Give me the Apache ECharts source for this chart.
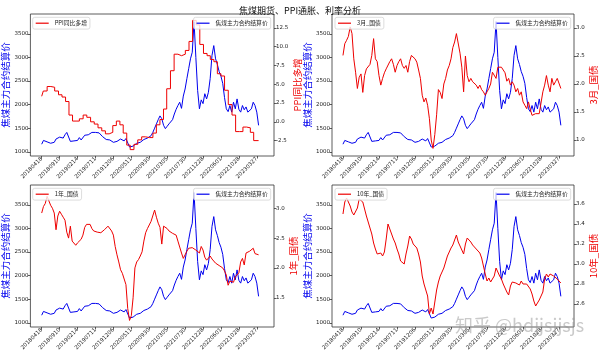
<!DOCTYPE html>
<html>
<head>
<meta charset="utf-8">
<title>焦煤期货、PPI通胀、利率分析</title>
<script src="https://cdn.jsdelivr.net/npm/echarts@6/dist/echarts.min.js"></script>
<style>
  html, body { margin: 0; padding: 0; background: #fff; }
  #chart { width: 600px; height: 354px; }
</style>
</head>
<body>
<div id="chart"></div>
<script>
  // x axis = trading-day index, one label every 100 trading days
  const tickLabels = ['20180418', '20180910', '20190214', '20190711', '20191206', '20200511', '20200930',
    '20210305', '20210730', '20211228', '20220601', '20221028', '20230327'];
  const tickIdx = [0, 100, 200, 300, 400, 500, 600, 700, 800, 900, 1000, 1100, 1200];

  // daily series sampled every 10 trading days (idx 0..1210)
  const step = 10;
  const coking = [1160, 1240, 1270, 1210, 1250, 1180, 1150, 1200, 1270, 1230,
    1310, 1330, 1290, 1360, 1410, 1440, 1220, 1190, 1230, 1270,
    1240, 1300, 1250, 1290, 1350, 1380, 1360, 1400, 1410, 1400,
    1410, 1390, 1400, 1380, 1320, 1290, 1260, 1250, 1250, 1240,
    1200, 1170, 1220, 1250, 1270, 1260, 1230, 1280, 1260, 1100,
    1060, 1120, 1160, 1180, 1190, 1200, 1230, 1260, 1250, 1290,
    1330, 1340, 1410, 1500, 1590, 1680, 1760, 1700, 1560, 1490,
    1540, 1590, 1620, 1680, 1800, 1900, 1980, 2050, 1920, 2180,
    2330, 2550, 2760, 2970, 3110, 3760, 3000, 2300, 1910, 2100,
    2020, 2230, 2120, 2260, 2550, 3040, 3250, 2970, 2850, 2700,
    2600, 2450, 2150, 1910, 1850, 1980, 1840, 2050, 1910, 2120,
    1900, 1840, 1980, 1890, 1950, 1840, 1840, 1910, 2050, 1980,
    1840, 1560];
  const bond3m = [2.51, 2.72, 2.78, 2.85, 3.02, 2.90, 2.45, 2.21, 1.92, 2.12,
    2.18, 1.85, 2.15, 2.27, 2.24, 2.35, 2.51, 2.81, 2.45, 2.40,
    2.15, 1.98, 2.10, 2.20, 2.27, 2.30, 2.40, 2.45, 2.35, 2.21,
    2.33, 2.40, 2.45, 2.33, 2.28, 2.33, 2.21, 2.40, 2.51, 2.48,
    2.45, 2.39, 2.25, 2.10, 1.80, 1.68, 1.75, 1.62, 1.38, 1.00,
    0.85, 1.10, 1.45, 1.90, 1.85, 1.74, 2.00, 2.10, 2.25, 2.33,
    2.45, 2.65, 2.75, 2.90, 2.93, 2.55, 2.30, 1.86, 2.50, 2.15,
    2.04, 2.10, 2.04, 2.02, 1.98, 1.92, 1.98, 1.90, 1.86, 1.80,
    1.86, 1.92, 2.00, 2.21, 2.18, 2.10, 2.30, 2.33, 2.30, 2.27,
    2.20, 2.05, 2.10, 1.98, 2.04, 1.98, 1.86, 1.92, 1.80, 1.86,
    1.68, 1.62, 1.56, 1.68, 1.55, 1.44, 1.44, 1.47, 1.50, 1.47,
    1.50, 1.86, 1.98, 2.15, 1.98, 1.86, 2.10, 1.98, 2.04, 2.10,
    2.07, 1.92];
  const bond1y = [2.92, 3.03, 3.08, 3.20, 3.17, 3.05, 3.00, 2.92, 2.64, 2.87,
    2.95, 2.90, 2.85, 2.80, 2.60, 2.50, 2.70, 2.45, 2.42, 2.38,
    2.42, 2.45, 2.48, 2.55, 2.68, 2.73, 2.70, 2.73, 2.66, 2.62,
    2.64, 2.60, 2.62, 2.59, 2.62, 2.64, 2.66, 2.70, 2.68, 2.62,
    2.55, 2.36, 2.22, 2.10, 1.97, 1.91, 1.88, 1.72, 1.32, 1.12,
    1.20, 1.50, 2.00, 2.10, 2.14, 2.20, 2.27, 2.45, 2.59, 2.66,
    2.72, 2.78, 2.80, 2.97, 2.85, 2.75, 2.68, 2.40, 2.70, 2.68,
    2.66, 2.62, 2.60, 2.58, 2.55, 2.55, 2.45, 2.35, 2.25, 2.16,
    2.22, 2.28, 2.33, 2.30, 2.34, 2.32, 2.30, 2.28, 2.25, 2.36,
    2.30, 2.18, 2.13, 2.12, 2.20, 2.15, 2.13, 2.08, 2.10, 2.04,
    2.06, 2.00, 1.95, 1.88, 1.71, 1.78, 1.80, 1.76, 1.85, 1.82,
    1.92, 2.10, 2.16, 2.05, 2.25, 2.25, 2.28, 2.30, 2.33, 2.24,
    2.25, 2.22];
  const bond10y = [3.50, 3.62, 3.66, 3.65, 3.58, 3.52, 3.49, 3.48, 3.56, 3.65,
    3.66, 3.62, 3.55, 3.48, 3.42, 3.36, 3.30, 3.21, 3.15, 3.10,
    3.09, 3.11, 3.08, 3.12, 3.25, 3.40, 3.38, 3.30, 3.25, 3.21,
    3.15, 3.10, 3.03, 3.05, 3.00, 3.10, 3.18, 3.28, 3.25, 3.20,
    3.18, 3.16, 3.10, 3.02, 2.88, 2.80, 2.74, 2.68, 2.50, 2.56,
    2.50, 2.62, 2.74, 2.82, 2.88, 2.92, 2.96, 3.02, 3.08, 3.12,
    3.16, 3.19, 3.24, 3.29, 3.22, 3.18, 3.14, 3.10, 3.20, 3.26,
    3.27, 3.22, 3.19, 3.17, 3.15, 3.13, 3.11, 3.06, 2.98, 2.90,
    2.83, 2.86, 2.82, 2.84, 2.88, 2.96, 2.95, 2.88, 2.85, 2.80,
    2.76, 2.72, 2.69, 2.78, 2.82, 2.83, 2.81, 2.80, 2.79, 2.83,
    2.80, 2.78, 2.80, 2.78, 2.75, 2.70, 2.63, 2.58, 2.61, 2.64,
    2.66, 2.72, 2.85, 2.90, 2.87, 2.90, 2.89, 2.88, 2.86, 2.85,
    2.83, 2.81];

  // PPI yoy, monthly
  const ppiMonths = ['201804', '201805', '201806', '201807', '201808', '201809', '201810', '201811', '201812',
    '201901', '201902', '201903', '201904', '201905', '201906', '201907', '201908', '201909', '201910', '201911', '201912',
    '202001', '202002', '202003', '202004', '202005', '202006', '202007', '202008', '202009', '202010', '202011', '202012',
    '202101', '202102', '202103', '202104', '202105', '202106', '202107', '202108', '202109', '202110', '202111', '202112',
    '202201', '202202', '202203', '202204', '202205', '202206', '202207', '202208', '202209', '202210', '202211', '202212',
    '202301', '202302', '202303'];
  const ppiValues = [3.4, 4.1, 4.7, 4.6, 4.1, 3.6, 3.3, 2.7, 0.9,
    0.1, 0.1, 0.4, 0.9, 0.6, 0.0, -0.3, -0.8, -1.2, -1.6, -1.4, -0.5,
    0.1, -0.4, -1.5, -3.1, -3.7, -3.0, -2.4, -2.0, -2.1, -2.1, -1.5, -0.4,
    0.3, 1.7, 4.4, 6.8, 9.0, 8.8, 9.0, 9.5, 10.7, 13.5, 12.9, 10.3,
    9.1, 8.8, 8.3, 8.0, 6.4, 6.1, 4.2, 2.3, 0.9, -1.3, -1.3, -0.7,
    -0.8, -1.4, -2.5];

  // axis tick values
  const leftTicks = [1000, 1500, 2000, 2500, 3000, 3500];
  const rightTicks = [
    [-2.5, 0, 2.5, 5, 7.5, 10, 12.5],
    [1.0, 1.5, 2.0, 2.5, 3.0],
    [1.5, 2.0, 2.5, 3.0],
    [2.6, 2.8, 3.0, 3.2, 3.4, 3.6]
  ];
  const rightNames = ['PPI同比多增', '3月_国债', '1年_国债', '10年_国债'];
  const leftName = '焦煤主力合约结算价';

  function parseDay(s) {
    return Date.UTC(+s.slice(0, 4), +s.slice(4, 6) - 1, +s.slice(6, 8));
  }
  // calendar date -> trading-day index, using the labelled ticks as anchors
  function dayToIdx(s) {
    const t = parseDay(s);
    const ts = tickLabels.map(parseDay);
    let k = 0;
    while (k < ts.length - 2 && t >= ts[k + 1]) k++;
    return Math.max(0, tickIdx[k] + 100 * (t - ts[k]) / (ts[k + 1] - ts[k]));
  }

  const toPairs = arr => arr.map((v, i) => [i * step, v]);
  const lastIdx = (coking.length - 1) * step;
  const ppiData = ppiMonths.map((m, i) => [dayToIdx(m + '01'), ppiValues[i]]);
  ppiData.push([lastIdx, ppiValues[ppiValues.length - 1]]);

  const redData = [ppiData, toPairs(bond3m), toPairs(bond1y), toPairs(bond10y)];
  const cokingData = toPairs(coking);

  const BLUE = '#0000ee';
  const RED = '#ee0000';
  const tickFont = {fontSize: 5.5, color: '#222', fontFamily: 'DejaVu Sans'};
  const tickLine = {length: 2.5, lineStyle: {color: '#333', width: 0.8}};
  const cjk = 'Noto Sans CJK SC';

  // panel boxes (px) and x ranges
  const boxes = [
    {left: 29, top: 14, width: 245, height: 142, xmin: -63, xmax: 1296, gap: 18, lg: 32.7},
    {left: 332, top: 14, width: 242, height: 142, xmin: -61, xmax: 1283, gap: 20, lg: 335},
    {left: 29, top: 185, width: 245, height: 142, xmin: -63, xmax: 1296, gap: 18, lg: 32.7},
    {left: 332, top: 185, width: 242, height: 142, xmin: -61, xmax: 1283, gap: 20, lg: 335}
  ];
  const rightRange = [[-4.55, 14.35], [0.714, 3.25], [1.01, 3.39], [2.37, 3.79]];

  const grid = [], xAxis = [], yAxis = [], series = [], legend = [];
  boxes.forEach((b, i) => {
    grid.push({
      left: b.left, top: b.top, width: b.width, height: b.height,
      show: true, borderColor: '#333', borderWidth: 0.8, backgroundColor: '#fff'
    });
    xAxis.push({
      type: 'value', gridIndex: i, min: b.xmin, max: b.xmax, position: 'bottom',
      splitLine: {show: false}, axisLine: {show: false, onZero: false},
      axisTick: Object.assign({customValues: tickIdx}, tickLine),
      axisLabel: Object.assign({
        customValues: tickIdx, rotate: 45, margin: 2,
        formatter: v => tickLabels[Math.round(v / 100)]
      }, tickFont)
    });
    yAxis.push({
      type: 'value', gridIndex: i, position: 'left', min: 910, max: 3920,
      name: leftName, nameLocation: 'middle', nameGap: b.gap, nameRotate: 90,
      nameTextStyle: {color: BLUE, fontSize: 9.5, fontFamily: cjk},
      splitLine: {show: false}, axisLine: {show: false, onZero: false},
      axisTick: Object.assign({customValues: leftTicks}, tickLine),
      axisLabel: Object.assign({customValues: leftTicks, margin: 2, formatter: v => String(v)}, tickFont)
    });
    yAxis.push({
      type: 'value', gridIndex: i, position: 'right', min: rightRange[i][0], max: rightRange[i][1],
      name: rightNames[i], nameLocation: 'middle', nameGap: 10, nameRotate: 90,
      nameTextStyle: {color: RED, fontSize: 9.5, fontFamily: cjk},
      splitLine: {show: false}, axisLine: {show: false, onZero: false},
      axisTick: Object.assign({customValues: rightTicks[i]}, tickLine),
      axisLabel: Object.assign({customValues: rightTicks[i], margin: 2, formatter: v => v.toFixed(1)}, tickFont)
    });
    series.push({
      name: leftName, type: 'line', xAxisIndex: i, yAxisIndex: 2 * i, data: cokingData,
      symbol: 'none', lineStyle: {color: BLUE, width: 1}, itemStyle: {color: BLUE}, z: 2
    });
    series.push({
      name: rightNames[i], type: 'line', xAxisIndex: i, yAxisIndex: 2 * i + 1, data: redData[i],
      step: i === 0 ? 'end' : false,
      symbol: 'none', lineStyle: {color: RED, width: 1}, itemStyle: {color: RED}, z: 3
    });
    const legendBase = {
      top: b.top + 3.3, orient: 'horizontal', icon: 'rect', itemWidth: 13, itemHeight: 1.2,
      padding: [3, 3, 3, 3], borderColor: '#d4d4d4', borderWidth: 0.8, borderRadius: 2,
      backgroundColor: 'rgba(255,255,255,0.8)', selectedMode: false,
      textStyle: {fontSize: 5.8, color: '#222', fontFamily: cjk, padding: [0, 0, 0, 1]}
    };
    legend.push(Object.assign({left: b.lg, data: [rightNames[i]]}, legendBase));
    legend.push(Object.assign({right: 600 - (b.left + b.width) + 3.3, data: [leftName]}, legendBase));
  });

  let chart = echarts.init(document.getElementById('chart'), null, {renderer: 'canvas'});
  chart.setOption({
    animation: false,
    backgroundColor: '#fff',
    title: {
      text: '焦煤期货、PPI通胀、利率分析', left: 'center', top: 1,
      textStyle: {fontSize: 9, fontWeight: 'normal', color: '#111', fontFamily: cjk}
    },
    legend: legend,
    grid: grid,
    xAxis: xAxis,
    yAxis: yAxis,
    series: series,
    graphic: [{
      type: 'text', left: 455, top: 316, silent: true, z: 100,
      style: {text: '知乎 @hdjjsjjsjs', fontSize: 18, fontFamily: cjk, fill: 'rgba(150,150,150,0.5)'}
    }]
  });
</script>
</body>
</html>
